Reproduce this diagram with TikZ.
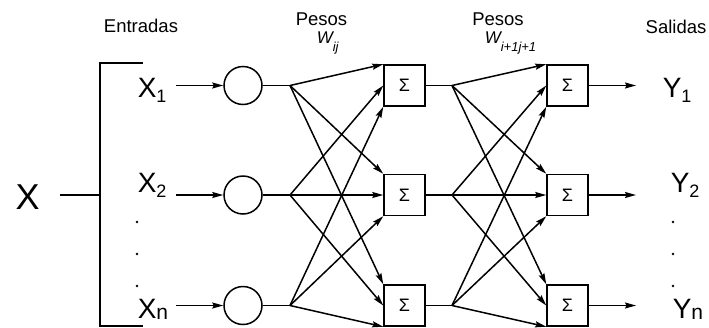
\documentclass[tikz,border=0pt]{standalone}
\usepackage{fontspec}
\setmainfont{Liberation Sans}
\usetikzlibrary{arrows.meta}
\begin{document}
\begin{tikzpicture}[x=1pt,y=-1pt, line width=1.5pt,
  neuron/.style={draw, circle, minimum size=38pt, inner sep=0pt},
  sumbox/.style={draw, minimum width=41pt, minimum height=41pt, inner sep=0pt, font=\fontsize{18}{18}\selectfont},
  arr/.style={-{Stealth[length=11pt,width=6pt,inset=1.5pt]}},
  lbl/.style={inner sep=0pt, anchor=base west, font=\fontsize{28}{28}\selectfont},
  ttl/.style={inner sep=0pt, anchor=base, font=\fontsize{18.5}{18.5}\selectfont},
  wlbl/.style={inner sep=0pt, anchor=base west, font=\fontsize{17}{17}\selectfont\itshape},
  dotm/.style={fill, circle, inner sep=0pt, minimum size=2.6pt}]
\useasboundingbox (0,0) rectangle (709,327);

% titles
\node[ttl] (ent) at (141,32) {Entradas};
\node[ttl] (p1) at (321.5,25) {Pesos};
\node[ttl] (p2) at (498,25) {Pesos};
\node[ttl] (sal) at (676,33) {Salidas};
\node[wlbl] (w1) at (316,43.5) {W\raisebox{-8pt}{\fontsize{13}{13}\selectfont ij}};
\node[wlbl] (w2) at (484,43.5) {W\raisebox{-8pt}{\fontsize{13}{13}\selectfont i+1j+1}};

% big X and bracket
\node[inner sep=0pt, anchor=base west, font=\fontsize{36}{36}\selectfont] (X) at (15,209) {X};
\coordinate (xa) at (60,195);
\coordinate (xb) at (100,195);
\coordinate (bt) at (143,63);
\coordinate (bb) at (143,326);
\draw (xa) -- (xb);
\draw (bt) -| (xb) |- (bb);

% input labels
\node[lbl] (x1) at (137,97) {X\raisebox{-5pt}{\fontsize{18}{18}\selectfont 1}};
\node[lbl] (x2) at (137,192.5) {X\raisebox{-5pt}{\fontsize{18}{18}\selectfont 2}};
\node[lbl] (xn) at (137,318.5) {X\raisebox{-1pt}{\fontsize{21}{21}\selectfont n}};
\node[dotm] (xd1) at (137,222) {};
\node[dotm] (xd2) at (137,254) {};
\node[dotm] (xd3) at (137,286) {};

% output labels
\node[lbl] (y1) at (662,97) {Y\raisebox{-5pt}{\fontsize{18}{18}\selectfont 1}};
\node[lbl] (y2) at (670,192.5) {Y\raisebox{-5pt}{\fontsize{18}{18}\selectfont 2}};
\node[lbl] (yn) at (672,318.5) {Y\raisebox{-1pt}{\fontsize{21}{21}\selectfont n}};
\node[dotm] (yd1) at (673,222) {};
\node[dotm] (yd2) at (673,254) {};
\node[dotm] (yd3) at (673,286) {};

% rows
\foreach \i/\y in {1/85.5,2/195,3/305.5} {
  \node[neuron] (c\i) at (243,\y) {};
  \coordinate (in\i) at (176,\y);
  \coordinate (f\i) at (290,\y);
  \node[sumbox] (s\i) at (404.5,\y) {Σ};
  \coordinate (g\i) at (452,\y);
  \node[sumbox] (t\i) at (567.5,\y) {Σ};
  \coordinate (o\i) at (636,\y);
  \draw[arr] (in\i) -- (c\i);
  \draw (c\i) -- (f\i);
  \draw (s\i) -- (g\i);
  \draw[arr] (t\i) -- (o\i);
}

% fan connections
\foreach \i/\a in {1/north west,2/west,3/south west} {
  \foreach \j in {1,2,3} {
    \draw[arr] (f\i) -- (s\j.\a);
    \draw[arr] (g\i) -- (t\j.\a);
  }
}
\end{tikzpicture}
\end{document}
